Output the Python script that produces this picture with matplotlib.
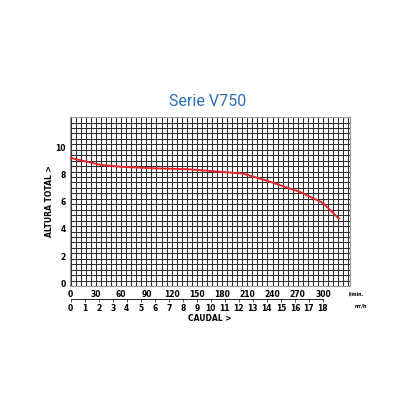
import numpy as np
import matplotlib.pyplot as plt

# curve (l/min -> m)
caudal_lmin = [0, 35, 60, 95, 140, 165, 205, 235, 273, 300, 319]
altura_m = [9.2, 8.7, 8.55, 8.45, 8.37, 8.25, 8.05, 7.5, 6.7, 5.9, 4.75]

lmin_ticks = [0, 30, 60, 90, 120, 150, 180, 210, 240, 270, 300]
m3h_ticks = list(range(0, 19))
altura_ticks = [0, 2, 4, 6, 8, 10]

fig = plt.figure(figsize=(4.16, 4.16), dpi=100)
ax = fig.add_axes([0.168, 0.3125, 0.673, 0.406])

# grid paper
for x in np.arange(0, 334, 6):
    ax.axvline(x, color='#2e2e2e', lw=0.75, zorder=1)
for y in np.arange(-0.2, 12.3, 0.4):
    ax.axhline(y, color='#2e2e2e', lw=0.75, zorder=1)

ax.plot(caudal_lmin, altura_m, color='#e8262b', lw=1.4, zorder=3)

ax.set_xlim(-1, 332)
ax.set_ylim(-0.2, 12.2)
for s in ax.spines.values():
    s.set_color('#9a9a9a')
    s.set_linewidth(0.8)

ax.set_xticks(lmin_ticks)
ax.set_xticklabels([str(v) for v in lmin_ticks], fontsize=5.5, fontweight='bold')
ax.set_yticks(altura_ticks)
ax.set_yticklabels([str(v) for v in altura_ticks], fontsize=5.5, fontweight='bold')
ax.tick_params(axis='both', length=0, pad=3)
ax.set_ylabel('ALTURA TOTAL >', fontsize=5.5, fontweight='bold', labelpad=1)

# second flow scale in m3/h
sec = ax.secondary_xaxis(-0.075, functions=(lambda q: q * 0.06, lambda m: m / 0.06))
sec.set_xticks(m3h_ticks)
sec.set_xticklabels([str(v) for v in m3h_ticks], fontsize=5.5, fontweight='bold')
sec.tick_params(axis='x', length=2.5, width=0.6, pad=1, color='#333333')
sec.spines['bottom'].set_bounds(0, 18)
sec.spines['bottom'].set_linewidth(0.6)
sec.set_xlabel('CAUDAL >', fontsize=5.5, fontweight='bold', labelpad=1)

ax.text(1.025, -0.045, 'l/min.', transform=ax.transAxes, fontsize=3.5,
        fontweight='bold', ha='center', va='center')
ax.text(1.04, -0.12, 'm³/h', transform=ax.transAxes, fontsize=3.5,
        fontweight='bold', ha='center', va='center')

fig.text(0.5, 0.755, 'Serie V750', color='#2b70b8', fontsize=11.5,
         family=['Roboto', 'DejaVu Sans'], ha='center', va='center')

fig.savefig('out.png', dpi=100, facecolor='white')
